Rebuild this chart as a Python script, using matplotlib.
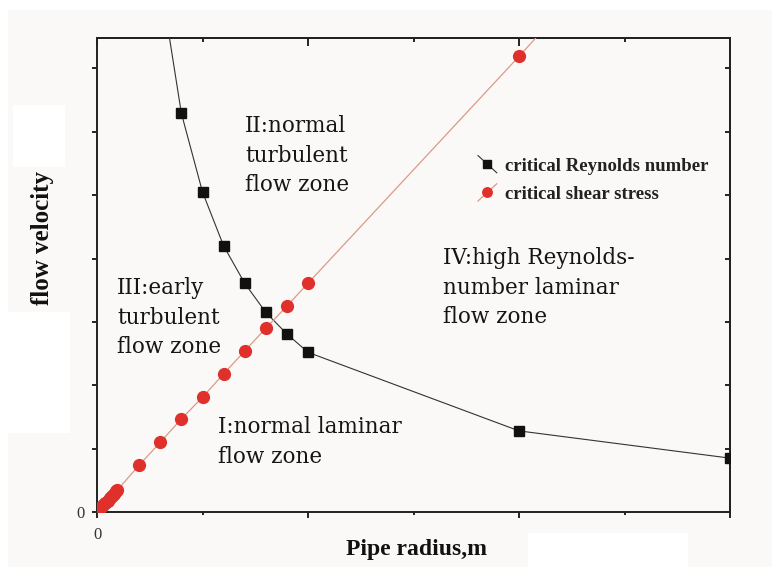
import matplotlib
matplotlib.use("Agg")
import matplotlib.pyplot as plt
from matplotlib.lines import Line2D
from matplotlib.patches import Rectangle
from matplotlib.legend_handler import HandlerBase

# ---- data ----
re_radius = [0.3, 0.4, 0.5, 0.6, 0.7, 0.8, 0.9, 1.0, 2.0, 3.0]
re_velocity = [8.40, 6.29, 5.05, 4.20, 3.61, 3.15, 2.81, 2.52, 1.28, 0.85]

ss_radius = [0.0, 0.01, 0.02, 0.03, 0.04, 0.05, 0.06, 0.07, 0.08, 0.09, 0.095,
             0.2, 0.3, 0.4, 0.5, 0.6, 0.7, 0.8, 0.9, 1.0, 2.0, 2.2]
ss_velocity = [0.0, 0.036, 0.072, 0.108, 0.144, 0.18, 0.216, 0.252, 0.288, 0.324, 0.342,
               0.74, 1.10, 1.47, 1.81, 2.18, 2.54, 2.90, 3.25, 3.61, 7.19, 7.92]

x_ticks = [0, 1, 2, 3]
x_minor = [0.5, 1.5, 2.5]
x_ticklabels = ["0", "", "", ""]
y_ticks = [0, 1, 2, 3, 4, 5, 6, 7]
y_ticklabels = ["0", "", "", "", "", "", "", ""]

zone_labels = ["II:normal\nturbulent\nflow zone",
               "III:early\nturbulent\nflow zone",
               "IV:high Reynolds-\nnumber laminar\nflow zone",
               "I:normal laminar\nflow zone"]
legend_labels = ["critical Reynolds number", "critical shear stress"]

W, H = 772, 567
BG = "#faf9f7"
fig = plt.figure(figsize=(W / 100, H / 100), dpi=100, facecolor="white")
fig.add_artist(Rectangle((8 / W, 0), 1, 1 - 10 / H, transform=fig.transFigure,
                         facecolor=BG, edgecolor="none", zorder=-10))

ax = fig.add_axes([97 / W, 1 - 512 / H, (730 - 97) / W, (512 - 38) / H])
ax.set_facecolor(BG)

ax.plot(re_radius, re_velocity, color="#333333", lw=0.8, marker="s", ms=7.5,
        mfc="#111111", mec="#111111", label=legend_labels[0], zorder=3)
ax.plot(ss_radius, ss_velocity, color="#dc9a86", lw=0.9, marker="o", ms=8.5,
        mfc="#e0302c", mec="#e0302c", label=legend_labels[1], zorder=4)

ax.set_xlim(0, 3)
ax.set_ylim(0, 7.48)
ax.set_xticks(x_ticks)
ax.set_xticks(x_minor, minor=True)
ax.set_xticklabels(x_ticklabels)
ax.set_yticks(y_ticks)
ax.set_yticklabels(y_ticklabels)

for s in ax.spines.values():
    s.set_linewidth(1.4)
    s.set_color("#222222")

ax.tick_params(axis="x", which="major", direction="out", length=4.5, width=1.2,
               top=False, labelsize=12, labelcolor="#333333", pad=6)
ax.tick_params(axis="x", which="minor", direction="out", length=2.5, width=1.2, top=False)
ax.tick_params(axis="y", which="major", direction="out", length=3.8, width=1.2,
               right=False, labelsize=12, labelcolor="#333333", pad=5)
for lab in ax.get_xticklabels() + ax.get_yticklabels():
    lab.set_family("Liberation Serif")

secx = ax.secondary_xaxis("top")
secx.set_xticks(x_ticks)
secx.set_xticks(x_minor, minor=True)
secx.set_xticklabels([])
secx.tick_params(axis="x", which="major", direction="in", length=6, width=1.2)
secx.tick_params(axis="x", which="minor", direction="in", length=3, width=1.2)
secx.spines["top"].set_linewidth(1.4)
secx.spines["top"].set_color("#222222")

secy = ax.secondary_yaxis("right")
secy.set_yticks(y_ticks)
secy.set_yticklabels([])
secy.tick_params(axis="y", which="major", direction="in", length=3.5, width=1.2)
secy.spines["right"].set_linewidth(1.4)
secy.spines["right"].set_color("#222222")


class DiagHandler(HandlerBase):
    def __init__(self, down=True, **kw):
        super().__init__(**kw)
        self.down = down

    def create_artists(self, legend, orig_handle, xdescent, ydescent, width,
                       height, fontsize, trans):
        x0, x1 = -xdescent, -xdescent + width
        y0, y1 = -ydescent - 0.1 * height, -ydescent + 1.1 * height
        ys = [y1, y0] if self.down else [y0, y1]
        line = Line2D([x0, x1], ys, color=orig_handle.get_color(),
                      lw=orig_handle.get_linewidth())
        mk = Line2D([(x0 + x1) / 2], [(y0 + y1) / 2], linestyle="",
                    marker=orig_handle.get_marker(),
                    ms=orig_handle.get_markersize() * 0.8,
                    mfc=orig_handle.get_markerfacecolor(),
                    mec=orig_handle.get_markeredgecolor())
        line.set_transform(trans)
        mk.set_transform(trans)
        return [line, mk]


handles = ax.get_lines()
leg = ax.legend(handles, legend_labels,
                handler_map={handles[0]: DiagHandler(down=True),
                             handles[1]: DiagHandler(down=False)},
                loc="upper left", bbox_to_anchor=((478 - 97) / 633, (512 - 157) / 474),
                frameon=False, borderpad=0, borderaxespad=0,
                handlelength=1.0, handleheight=0.8, handletextpad=0.45,
                labelspacing=0.56,
                prop=dict(family="Liberation Serif", weight="bold", size=13.5))
for t in leg.get_texts():
    t.set_color("#222222")

zone_font = dict(family="DejaVu Serif", size=15.5, color="#151515", linespacing=1.45)
ax.text((245 - 97) / 633, (512 - 115) / 474, zone_labels[0], transform=ax.transAxes,
        ha="left", va="top", **zone_font)
ax.text((117 - 97) / 633, (512 - 277) / 474, zone_labels[1], transform=ax.transAxes,
        ha="left", va="top", **zone_font)
ax.text((443 - 97) / 633, (512 - 247) / 474, zone_labels[2], transform=ax.transAxes,
        ha="left", va="top", **zone_font)
ax.text((218 - 97) / 633, (512 - 416) / 474, zone_labels[3], transform=ax.transAxes,
        ha="left", va="top", **zone_font)

# axis titles
fig.text(417 / W, 1 - 550 / H, "Pipe radius,m", ha="center", va="center",
         family="Liberation Serif", weight="bold", size=17, color="#111111")
fig.text(42 / W, 1 - 238 / H, "flow velocity", ha="center", va="center", rotation=90,
         family="Liberation Serif", weight="bold", size=18, color="#111111")

# white redaction patches present in the reference
for (x0, y0, x1, y1) in [(13, 105, 65, 167), (8, 312, 70, 433), (528, 533, 688, 567)]:
    fig.add_artist(Rectangle((x0 / W, 1 - y1 / H), (x1 - x0) / W, (y1 - y0) / H,
                             transform=fig.transFigure, facecolor="white",
                             edgecolor="none", zorder=-5))

fig.savefig("out.png", dpi=100, facecolor=fig.get_facecolor())
